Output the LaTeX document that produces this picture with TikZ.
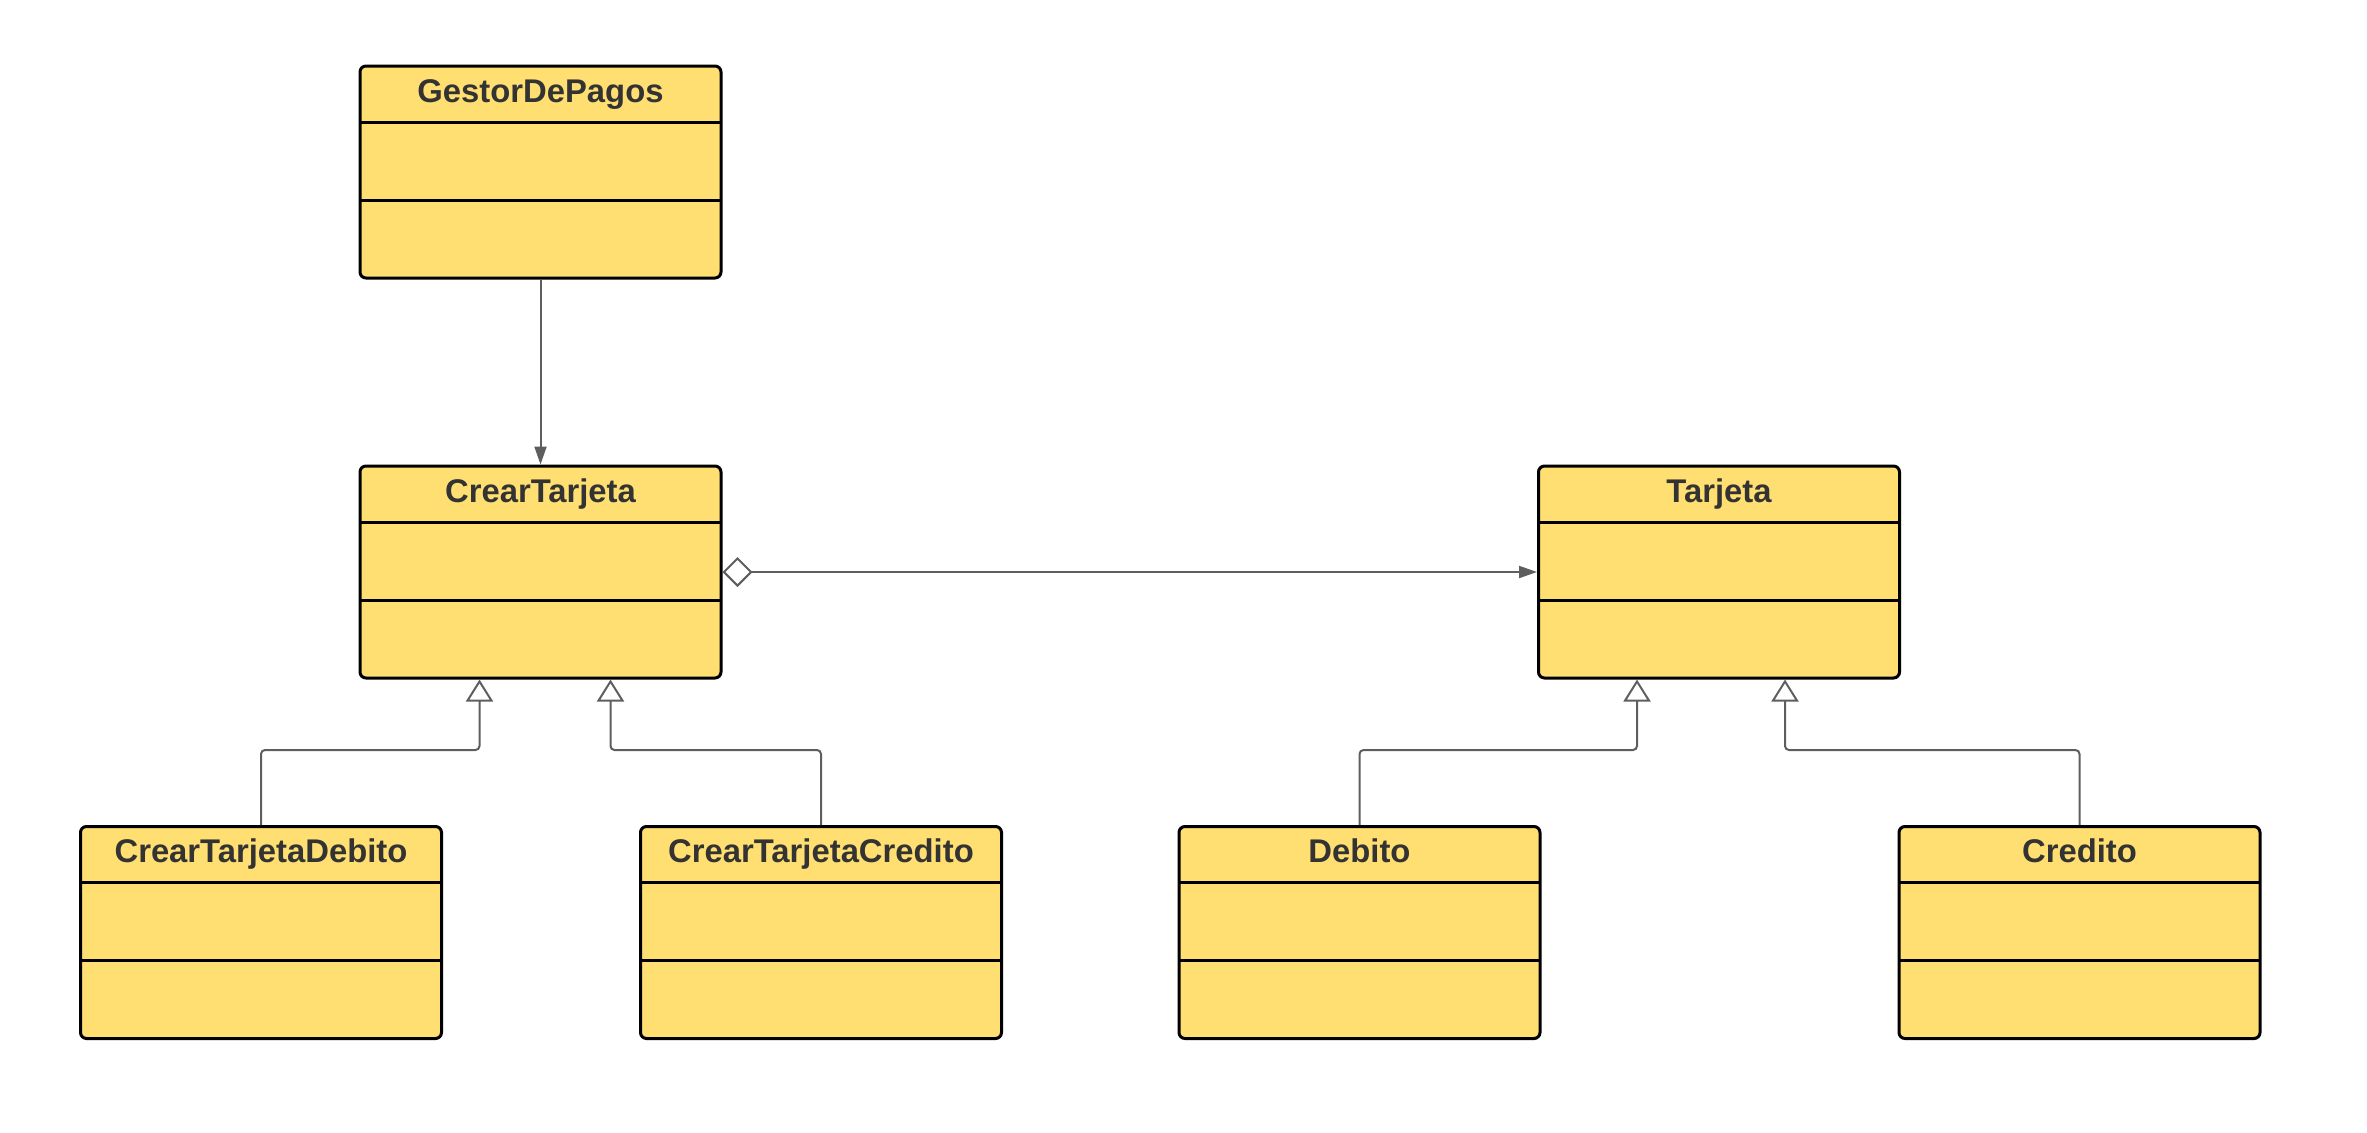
\documentclass[tikz,border=0pt]{standalone}
\usepackage{fontspec}
\setmainfont{Liberation Sans}
\usepackage{xcolor}
\usepackage{tikz}
\usetikzlibrary{arrows.meta,calc}
\definecolor{UYellow}{HTML}{FFDF71}
\definecolor{UText}{HTML}{333333}
\definecolor{UGray}{HTML}{5E5E5E}

\begin{document}
\begin{tikzpicture}[
  x=0.5pt,y=-0.5pt,
  every node/.style={font=\fontsize{16.4}{19}\selectfont\bfseries,text=UText},
  cls/.style={draw=black,line width=1.5pt,rounded corners=3pt,fill=UYellow,
    minimum width=180.5pt,minimum height=106pt,inner sep=0pt,
    path picture={
      \draw[line width=1.5pt] ([yshift=-28pt]path picture bounding box.north west)
        -- ([yshift=-28pt]path picture bounding box.north east);
      \draw[line width=1.5pt] ([yshift=-67pt]path picture bounding box.north west)
        -- ([yshift=-67pt]path picture bounding box.north east);}},
  title/.style={anchor=base,yshift=-18.8pt},
  arr/.style={-{Triangle[length=9pt,width=6pt]},line width=1pt,color=UGray},
  inh/.style={-{Triangle[open,length=11pt,width=13.5pt]},line width=1pt,
    color=UGray,rounded corners=2pt},
  agg/.style={{Diamond[open,length=15pt,width=15pt]}-{Triangle[length=9pt,width=6pt]},
    line width=1pt,color=UGray}
]
  \useasboundingbox (0,0) rectangle (2367,1132);
  \node[cls,label={[title]north:GestorDePagos}] (gestor) at (540.5,172) {};
  \node[cls,label={[title]north:CrearTarjeta}] (crear) at (540.5,572) {};
  \node[cls,label={[title]north:Tarjeta}] (tarjeta) at (1719,572) {};
  \node[cls,label={[title]north:CrearTarjetaDebito}] (cdebito) at (261,932.5) {};
  \node[cls,label={[title]north:CrearTarjetaCredito}] (ccredito) at (821,932.5) {};
  \node[cls,label={[title]north:Debito}] (debito) at (1359.5,932.5) {};
  \node[cls,label={[title]north:Credito}] (credito) at (2079.5,932.5) {};
  % attach points for the generalisations
  \coordinate (crear-l) at ($(crear.south west)+(121,0)$);
  \coordinate (crear-r) at ($(crear.south west)+(252,0)$);
  \coordinate (tarjeta-l) at ($(tarjeta.south west)+(100,0)$);
  \coordinate (tarjeta-r) at ($(tarjeta.south west)+(248,0)$);
  \draw[arr] (gestor) -- (crear);
  \draw[agg] (crear) -- (tarjeta);
  \draw[inh] (cdebito.north) -- ++(0,-75) -| (crear-l);
  \draw[inh] (ccredito.north) -- ++(0,-75) -| (crear-r);
  \draw[inh] (debito.north) -- ++(0,-75) -| (tarjeta-l);
  \draw[inh] (credito.north) -- ++(0,-75) -| (tarjeta-r);
\end{tikzpicture}
\end{document}
